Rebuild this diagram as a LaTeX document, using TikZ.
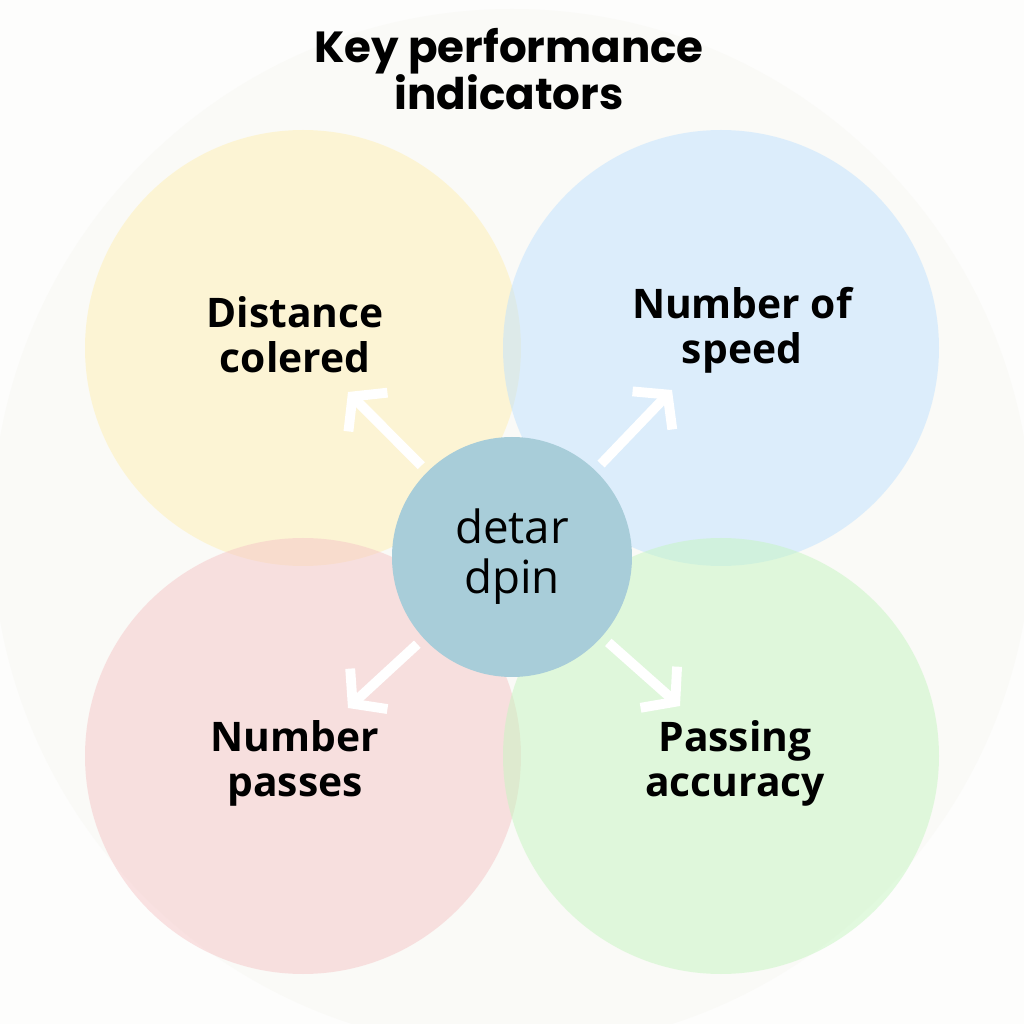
\documentclass[tikz,border=0pt]{standalone}
\usepackage{fontspec}
\setmainfont{Open Sans}
\newfontfamily\titlefont{Poppins}
\usetikzlibrary{arrows.meta}

\definecolor{bgpaper}{HTML}{FDFDFC}
\definecolor{bgdisc}{HTML}{FAFAF7}
\definecolor{kpiyellow}{HTML}{FFF0B3}
\definecolor{kpiblue}{HTML}{C0E2FF}
\definecolor{kpipink}{HTML}{F6C6C7}
\definecolor{kpigreen}{HTML}{C6F6C1}
\definecolor{hubfill}{HTML}{A8CDD9}

\tikzset{
  kpicircle/.style={circle, minimum size=4.36cm, fill opacity=0.5, draw=none},
  kpilabel/.style={align=center, font=\fontsize{11.6}{12.8}\selectfont\bfseries},
  kpiarrow/.style={draw=white, line width=2.8pt, shorten <=0.08cm,
    -{Straight Barb[length=2.2mm,width=5.5mm]}},
}

\begin{document}
\begin{tikzpicture}
    % canvas
    \fill[bgpaper] (0,0) rectangle (10.24,10.24);
    \useasboundingbox (0,0) rectangle (10.24,10.24);
    \fill[bgdisc] (5.12,4.95) circle (5.2);

    \node at (5.09,9.55) (title)[align=center, font=\titlefont\fontsize{12.4}{13.6}\selectfont\bfseries]{Key performance\\indicators};

    % four indicator circles
    \node at (3.03,6.76) (dist)[kpicircle, fill=kpiyellow]{};
    \node at (7.21,6.76) (speed)[kpicircle, fill=kpiblue]{};
    \node at (3.03,2.68) (pass)[kpicircle, fill=kpipink]{};
    \node at (7.21,2.68) (acc)[kpicircle, fill=kpigreen]{};

    \node at (2.95,6.89) (distlabel)[kpilabel]{Distance\\colered};
    \node at (7.42,6.94) (speedlabel)[kpilabel]{Number of\\speed};
    \node at (2.95,2.61) (passlabel)[kpilabel]{Number\\passes};
    \node at (7.35,2.61) (acclabel)[kpilabel]{Passing\\accuracy};

    % hub
    \node at (5.12,4.67) (hub)[circle, minimum size=2.4cm, fill=hubfill, align=center,
      font=\fontsize{13}{14.2}\selectfont]{detar\\dpin};

    \coordinate (ulend) at (3.48,6.32);
    \coordinate (urend) at (6.72,6.34);
    \coordinate (llend) at (3.48,3.16);
    \coordinate (lrend) at (6.80,3.18);

    \draw[kpiarrow] (hub) -- (ulend);
    \draw[kpiarrow] (hub) -- (urend);
    \draw[kpiarrow] (hub) -- (llend);
    \draw[kpiarrow] (hub) -- (lrend);
  \end{tikzpicture}
\end{document}
